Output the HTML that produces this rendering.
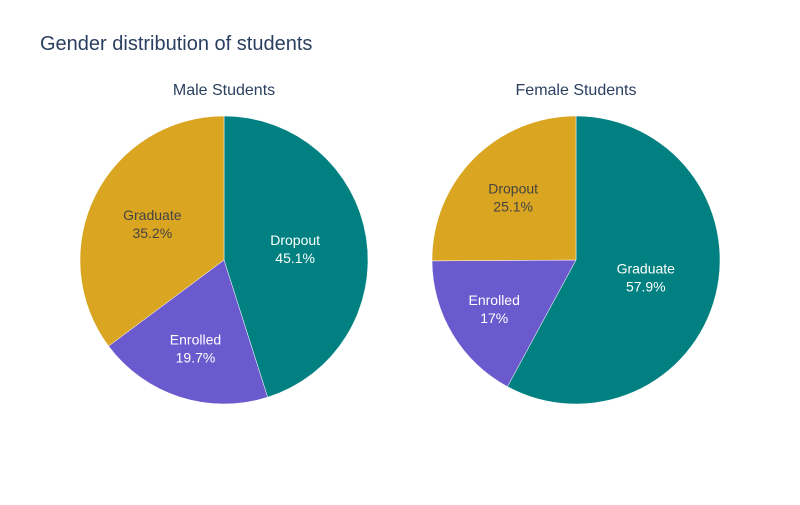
<!DOCTYPE html>
<html><head><meta charset="utf-8"><style>
body{margin:0;background:#fff;font-family:"Liberation Sans",Arial,sans-serif}
</style></head><body>
<svg width="800" height="500" id="chart" xmlns="http://www.w3.org/2000/svg">
<rect width="800" height="500" fill="#fff"/>
<text x="40" y="50" font-size="20" fill="#2a3f5f">Gender distribution of students</text>
<text x="224" y="95" font-size="16" fill="#2a3f5f" text-anchor="middle">Male Students</text>
<text x="576" y="95" font-size="16" fill="#2a3f5f" text-anchor="middle">Female Students</text>
<g id="pies"></g>
</svg>
<script>
const maleLabels=["Dropout","Enrolled","Graduate"];
const maleValues=[45.1,19.7,35.2];
const femaleLabels=["Graduate","Enrolled","Dropout"];
const femaleValues=[57.9,17,25.1];
const sliceColors=["#008080","#6a5acd","#daa520"];
const textColors=["#fff","#fff","#444"];
const NS="http://www.w3.org/2000/svg";
const g=document.getElementById('pies');
function pie(labels,values,cx,cy,R,name){
  const total=values.reduce((a,b)=>a+b,0);
  let a0=0;
  values.forEach((v,i)=>{
    const f=v/total;
    const a1=a0+f*2*Math.PI;
    const x0=cx+R*Math.sin(a0),y0=cy-R*Math.cos(a0);
    const x1=cx+R*Math.sin(a1),y1=cy-R*Math.cos(a1);
    const p=document.createElementNS(NS,'path');
    p.setAttribute('d',`M${cx},${cy}L${x0},${y0}A${R},${R} 0 ${a1-a0>Math.PI?1:0} 1 ${x1},${y1}Z`);
    p.setAttribute('fill',sliceColors[i]);p.setAttribute('stroke','#fff');p.setAttribute('stroke-width','0.5');
    
    
    g.appendChild(p);
    const am=(a0+a1)/2;
    const rr=R*(f>=0.45?0.5:0.5+(0.45-f)*0.58);
    const tx=cx+rr*Math.sin(am),ty=cy-rr*Math.cos(am);
    const t=document.createElementNS(NS,'text');
    t.setAttribute('x',tx);t.setAttribute('y',ty-4);t.setAttribute('text-anchor','middle');
    t.setAttribute('font-size','14');t.setAttribute('fill',textColors[i]);
    
    
    const s1=document.createElementNS(NS,'tspan');s1.setAttribute('x',tx);s1.textContent=labels[i];
    const s2=document.createElementNS(NS,'tspan');s2.setAttribute('x',tx);s2.setAttribute('dy','18');s2.textContent=(Math.round(f*1000)/10)+'%';
    t.appendChild(s1);t.appendChild(s2);g.appendChild(t);
    a0=a1;
  });
}
pie(maleLabels,maleValues,224,260,144,'male');
pie(femaleLabels,femaleValues,576,260,144,'female');
</script>
</body></html>
